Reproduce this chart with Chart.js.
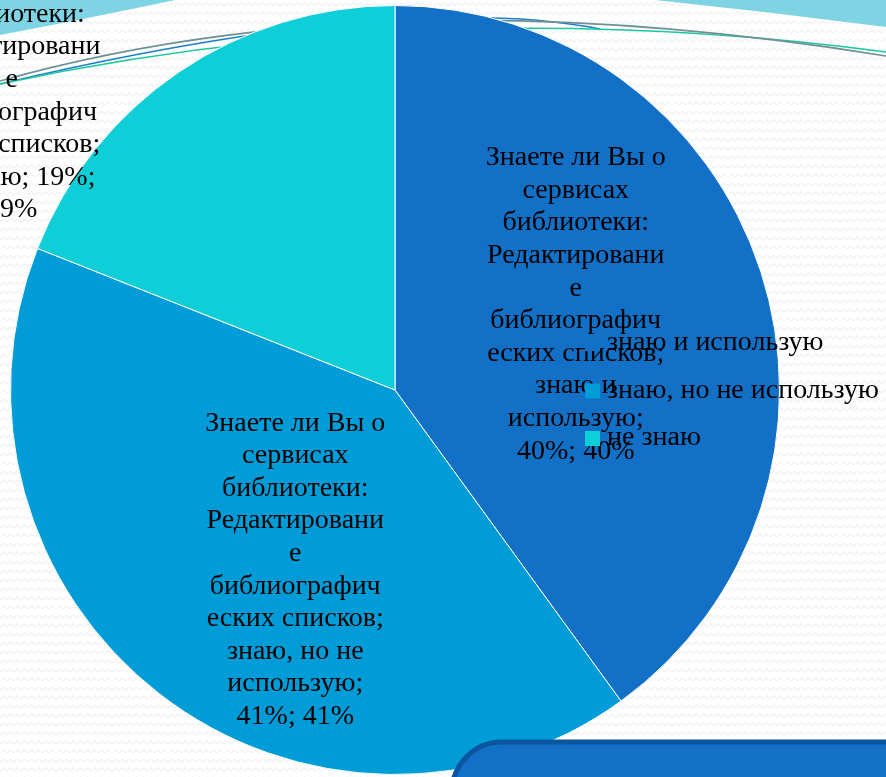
<!DOCTYPE html>
<html>
<head>
<meta charset="utf-8">
<script src="https://cdn.jsdelivr.net/npm/chart.js@4.4.0/dist/chart.umd.min.js"></script>
<style>
  html, body { margin: 0; padding: 0; background: #fff; }
  #wrap { width: 886px; height: 777px; position: relative; }
</style>
</head>
<body>
<div id="wrap"><canvas id="pie" width="886" height="777"></canvas></div>
<script>
const categories = ['знаю и использую', 'знаю, но не использую', 'не знаю']
const percents = [40, 41, 19]
const sliceColors = ['#1270C6', '#009CD8', '#0ECFD8']
const question = 'Знаете ли Вы о сервисах библиотеки: Редактирование библиографических списков'

// how each data label wraps (as in the original slide)
const labelLines = [
  ['Знаете ли Вы о', 'сервисах', 'библиотеки:', 'Редактировани', 'е', 'библиографич', 'еских списков;', 'знаю и', 'использую;', '40%; 40%'],
  ['Знаете ли Вы о', 'сервисах', 'библиотеки:', 'Редактировани', 'е', 'библиографич', 'еских списков;', 'знаю, но не', 'использую;', '41%; 41%'],
  ['Знаете ли Вы о', 'сервисах', 'библиотеки:', 'Редактировани', 'е', 'библиографич', 'еских списков;', 'не знаю; 19%;', '19%'],
]

const FONT = '28px "Liberation Serif", "DejaVu Serif", serif'

// label anchor: angle (deg, clockwise from top) and distance as share of radius
const labelPlace = [
  { a: 64.7, r: 0.52 },
  { a: 209, r: 0.535 },
  { a: 309, r: 1.283 },
]

const zigzag = (() => {
  const c = document.createElement('canvas')
  c.width = 14
  c.height = 9
  const g = c.getContext('2d')
  g.fillStyle = '#fff'
  g.fillRect(0, 0, 14, 9)
  g.strokeStyle = '#f3f3f3'
  g.lineWidth = 1.5
  g.beginPath()
  g.moveTo(0, 6)
  g.lineTo(3.5, 3)
  g.lineTo(7, 6)
  g.lineTo(10.5, 3)
  g.lineTo(14, 6)
  g.stroke()
  return c
})()

const slideBackground = {
  id: 'slideBackground',
  beforeDraw(chart) {
    const { ctx, width, height } = chart
    ctx.save()
    ctx.fillStyle = ctx.createPattern(zigzag, 'repeat')
    ctx.fillRect(0, 0, width, height)

    // top waves
    ctx.fillStyle = '#7FD4E4'
    ctx.beginPath()
    ctx.moveTo(0, 0)
    ctx.lineTo(175, 0)
    ctx.quadraticCurveTo(90, 18, 0, 35)
    ctx.closePath()
    ctx.fill()

    ctx.beginPath()
    ctx.moveTo(655, 0)
    ctx.lineTo(886, 0)
    ctx.lineTo(886, 27)
    ctx.quadraticCurveTo(770, 12, 655, 0)
    ctx.closePath()
    ctx.fill()
    ctx.restore()
  },
  beforeDatasetsDraw(chart) {
    const { ctx } = chart
    ctx.save()
    const curves = [
      { c: '#1A7FC8', p: [0, 84, 400, -10, 600, 29] },
      { c: '#1CC8A0', p: [0, 84, 430, -8, 886, 52] },
      { c: '#6E9096', p: [0, 81, 380, -26, 886, 56] },
    ]
    curves.forEach(({ c, p }) => {
      ctx.strokeStyle = c
      ctx.lineWidth = 1.6
      ctx.beginPath()
      ctx.moveTo(p[0], p[1])
      ctx.quadraticCurveTo(p[2], p[3], p[4], p[5])
      ctx.stroke()
    })
    ctx.restore()
  },
}

const slideFront = {
  id: 'slideFront',
  afterDatasetsDraw(chart) {
    const { ctx } = chart
    ctx.save()
    // panel in the bottom right corner
    ctx.fillStyle = '#1270C6'
    ctx.strokeStyle = '#0B559E'
    ctx.lineWidth = 5
    ctx.beginPath()
    ctx.moveTo(452, 800)
    ctx.arcTo(452, 742, 505, 742, 50)
    ctx.lineTo(900, 742)
    ctx.lineTo(900, 800)
    ctx.closePath()
    ctx.fill()
    ctx.stroke()
    ctx.restore()
  },
}

const sliceLabels = {
  id: 'sliceLabels',
  afterDraw(chart) {
    const { ctx } = chart
    const meta = chart.getDatasetMeta(0)
    ctx.save()
    ctx.font = FONT
    ctx.fillStyle = '#000'
    ctx.textAlign = 'center'
    ctx.textBaseline = 'middle'
    meta.data.forEach((arc, i) => {
      const place = labelPlace[i]
      const ang = (place.a * Math.PI) / 180
      const cx = arc.x + Math.sin(ang) * arc.outerRadius * place.r
      const cy = arc.y - Math.cos(ang) * arc.outerRadius * place.r
      const lines = labelLines[i]
      const lh = 32.6
      lines.forEach((t, k) => {
        ctx.fillText(t, cx, cy + (k - (lines.length - 1) / 2) * lh)
      })
    })

    // legend
    ctx.textAlign = 'left'
    categories.forEach((name, i) => {
      const y = 343 + i * 47.5
      ctx.fillStyle = sliceColors[i]
      ctx.fillRect(585, y - 7, 15, 15)
      ctx.fillStyle = '#000'
      ctx.fillText(name, 607, y)
    })
    ctx.restore()
  },
}

new Chart(document.getElementById('pie'), {
  type: 'pie',
  data: {
    labels: categories,
    datasets: [
      {
        label: question,
        data: percents,
        backgroundColor: sliceColors,
        borderColor: '#ffffff',
        borderWidth: 1,
      },
    ],
  },
  options: {
    responsive: false,
    animation: false,
    layout: { padding: { left: 10, right: 106, top: 5, bottom: 2 } },
    plugins: {
      legend: { display: false },
      tooltip: { enabled: false },
    },
  },
  plugins: [slideBackground, slideFront, sliceLabels],
})
</script>
</body>
</html>
